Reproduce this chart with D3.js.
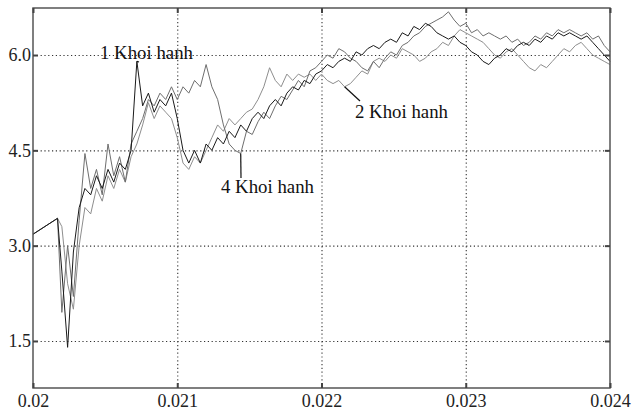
<!DOCTYPE html>
<meta charset="utf-8">
<style>
body { margin: 0; background: #fff; }
.grid line { stroke: #333; stroke-dasharray: 1.2,2.6; stroke-width: 1.1; }
.grid path { display: none; }
.axis path { display: none; }
.axis line { stroke: #444; stroke-width: 2; }
.axis text { font-family: "Liberation Serif", serif; font-size: 18px; fill: #222; }
.series { fill: none; stroke-width: 1; stroke-linejoin: round; }
.note { font-family: "Liberation Serif", serif; font-size: 18px; fill: #111; }
</style>
<body>
<svg width="632" height="414"></svg>
<script src="https://cdn.jsdelivr.net/npm/d3@7"></script>
<script>

// data
var xTicks = [0.02, 0.021, 0.022, 0.023, 0.024];
var xTickLabels = ["0.02", "0.021", "0.022", "0.023", "0.024"];
var yTicks = [1.5, 3.0, 4.5, 6.0];

// common start of all three runs
var headT = [0.02, 0.02017];
var headV = [3.18, 3.43];

// afterwards every run is sampled from t0 with step dt
var t0 = 0.0202, dt = 0.00004;

var s1 = [2.6, 1.4, 2.9, 3.6, 3.9, 3.8, 4.1, 3.9, 4.2, 4.0,
          4.3, 4.2, 4.5, 5.9, 5.2, 5.4, 5.1, 5.3, 5.2, 5.4,
          5.0, 4.5, 4.3, 4.5, 4.3, 4.6, 4.5, 4.7, 4.6, 4.8,
          4.7, 4.9, 4.8, 5.0, 5.1, 5.0, 5.2, 5.3, 5.2, 5.4,
          5.5, 5.45, 5.6, 5.55, 5.7, 5.75, 5.85, 5.8, 5.9, 5.95,
          5.9, 6.05, 6.0, 6.1, 6.15, 6.1, 6.2, 6.25, 6.2, 6.35,
          6.3, 6.45, 6.4, 6.5, 6.45, 6.35, 6.3, 6.25, 6.3, 6.2,
          6.15, 6.05, 6.0, 5.9, 5.85, 5.95, 6.0, 6.1, 6.05, 6.15,
          6.2, 6.15, 6.25, 6.2, 6.3, 6.25, 6.35, 6.3, 6.35, 6.3,
          6.25, 6.3, 6.2, 6.1, 6.0, 5.9];

var s2 = [3.3, 2.4, 2.0, 3.0, 3.6, 3.5, 3.9, 3.7, 4.1, 3.9,
          4.2, 4.0, 4.4, 4.6, 4.9, 5.25, 5.0, 5.2, 5.1, 5.0,
          4.7, 4.3, 4.2, 4.4, 4.3, 4.5, 4.7, 4.9, 4.8, 5.0,
          4.9, 5.0, 5.1, 5.15, 5.3, 5.5, 5.8, 5.6, 5.5, 5.7,
          5.6, 5.7, 5.65, 5.7, 5.6, 5.7, 5.6, 5.55, 5.6, 5.5,
          5.55, 5.65, 5.75, 5.7, 5.9, 5.95, 5.9, 6.0, 5.95, 6.1,
          6.05, 6.0, 5.9, 5.95, 6.05, 6.1, 6.2, 6.15, 6.3, 6.4,
          6.35, 6.3, 6.25, 6.2, 6.1, 6.0, 5.95, 6.05, 6.1, 6.0,
          5.9, 5.8, 5.75, 5.85, 5.8, 5.9, 6.0, 6.1, 6.05, 6.15,
          6.2, 6.1, 6.0, 5.95, 5.9, 5.85];

var s4 = [1.95, 3.0, 2.2, 3.4, 4.45, 3.9, 4.2, 3.8, 4.6, 4.1,
          4.4, 4.0, 4.6, 4.8, 5.0, 5.3, 5.2, 5.4, 5.3, 5.5,
          5.3, 5.5, 5.4, 5.6, 5.5, 5.85, 5.5, 5.3, 4.9, 4.6,
          4.5, 4.45, 4.8, 4.75, 4.95, 5.1, 5.0, 5.2, 5.35, 5.3,
          5.45, 5.6, 5.5, 5.75, 5.8, 5.9, 6.0, 5.95, 6.1, 6.05,
          5.95, 5.9, 5.8, 5.75, 5.9, 5.8, 5.95, 6.05, 6.0, 6.15,
          6.2, 6.3, 6.35, 6.45, 6.5, 6.55, 6.6, 6.68, 6.55, 6.45,
          6.5, 6.35, 6.4, 6.3, 6.35, 6.3, 6.25, 6.3, 6.2, 6.25,
          6.15, 6.2, 6.3, 6.25, 6.35, 6.3, 6.4, 6.35, 6.4, 6.35,
          6.3, 6.35, 6.25, 6.3, 6.15, 6.05];

var seriesNames = ["1 Khoi hanh", "2 Khoi hanh", "4 Khoi hanh"];

var svg = d3.select("svg"),
    pLeft = 33, pRight = 610, pTop = 8, pBottom = 388;

var x = d3.scaleLinear().domain([0.02, 0.024]).range([pLeft, pRight]),
    y = d3.scaleLinear().domain([0.76, 6.74]).range([pBottom, pTop]);

function points(vals) {
  var p = headT.map(function(t, i) { return {t: t, v: headV[i]}; });
  vals.forEach(function(v, i) { p.push({t: t0 + i * dt, v: v}); });
  return p;
}

// order: black, mid grey, light grey
var runs = [points(s1), points(s4), points(s2)];
var runColors = ["#1a1a1a", "#6e6e6e", "#8e8e8e"];

// dotted grid
svg.append("g").attr("class", "grid")
    .attr("transform", "translate(0," + pBottom + ")")
    .call(d3.axisBottom(x).tickValues(xTicks.slice(1, -1)).tickSize(-(pBottom - pTop)).tickFormat(""));
svg.append("g").attr("class", "grid")
    .attr("transform", "translate(" + pLeft + ",0)")
    .call(d3.axisLeft(y).tickValues(yTicks).tickSize(-(pRight - pLeft)).tickFormat(""));

var line = d3.line()
    .x(function(d) { return x(d.t); })
    .y(function(d) { return y(d.v); });

// light ones first, black on top
[2, 1, 0].forEach(function(k) {
  svg.append("path")
      .datum(runs[k])
      .attr("class", "series")
      .attr("stroke", runColors[k])
      .attr("d", line);
});

// frame
svg.append("rect")
    .attr("x", pLeft).attr("y", pTop)
    .attr("width", pRight - pLeft).attr("height", pBottom - pTop)
    .attr("fill", "none").attr("stroke", "#555").attr("stroke-width", 1.5);

// inward ticks with labels
svg.append("g").attr("class", "axis")
    .attr("transform", "translate(0," + pBottom + ")")
    .call(d3.axisBottom(x).tickValues(xTicks).tickSize(-5).tickPadding(6)
          .tickFormat(function(d, i) { return xTickLabels[i]; }));
svg.append("g").attr("class", "axis")
    .attr("transform", "translate(0," + pTop + ")")
    .call(d3.axisTop(x).tickValues(xTicks).tickSize(-5).tickFormat(""));
svg.append("g").attr("class", "axis")
    .attr("transform", "translate(" + pLeft + ",0)")
    .call(d3.axisLeft(y).tickValues(yTicks).tickSize(-5).tickPadding(2)
          .tickFormat(d3.format(".1f")));
svg.append("g").attr("class", "axis")
    .attr("transform", "translate(" + pRight + ",0)")
    .call(d3.axisRight(y).tickValues(yTicks).tickSize(-5).tickFormat(""));

// annotations: run index, sample index, text position, leader end
var notes = [
  {run: 0, i: 13, tx: 100, ty: 59, lx: 139, ly: 62, label: seriesNames[0]},
  {run: 2, i: 49, tx: 355, ty: 118, lx: 360, ly: 101, label: seriesNames[1]},
  {run: 1, i: 31, tx: 221, ty: 193, lx: 241, ly: 178, label: seriesNames[2]}
];

notes.forEach(function(n) {
  var p = runs[n.run][n.i + headT.length];
  svg.append("line")
      .attr("x1", x(p.t)).attr("y1", y(p.v))
      .attr("x2", n.lx).attr("y2", n.ly)
      .attr("stroke", "#111").attr("stroke-width", 1.2);
  svg.append("text")
      .attr("class", "note")
      .attr("x", n.tx).attr("y", n.ty)
      .attr("textLength", 93)
      .attr("lengthAdjust", "spacingAndGlyphs")
      .text(n.label);
});

</script>
</body>
